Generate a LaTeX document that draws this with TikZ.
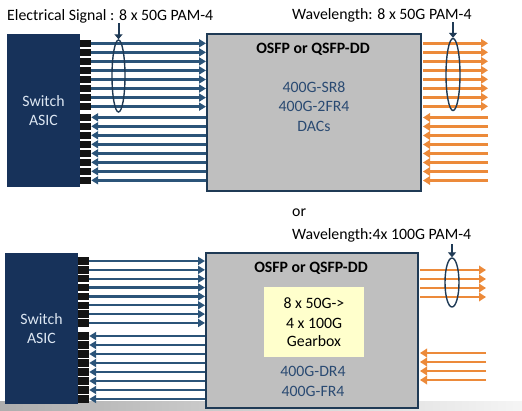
\documentclass[tikz,border=0pt]{standalone}
\usepackage{fontspec}
\setmainfont{Carlito}
\usetikzlibrary{arrows.meta,shapes.geometric}
\definecolor{navy}{HTML}{17325A}
\definecolor{lane}{HTML}{2B5479}
\definecolor{orng}{HTML}{EC8A3A}
\definecolor{modfill}{HTML}{BFBFBF}
\definecolor{modedge}{HTML}{1F3A55}
\definecolor{txtblue}{HTML}{2A4A72}
\definecolor{gbox}{HTML}{FFFFCC}
\definecolor{asictxt}{HTML}{DCE6F2}
\tikzset{
  txt/.style={inner sep=0pt, font=\fontsize{15.8}{19.5}\selectfont},
  asic/.style={fill=navy, draw=none, inner sep=0pt, text=asictxt, align=center,
    font=\fontsize{15.8}{19.3}\selectfont},
  pad/.style={fill=black!92, draw=none, inner sep=0pt, minimum width=11pt, minimum height=7.4pt},
  module/.style={fill=modfill, draw=modedge, line width=2pt, inner sep=0pt},
  gearbox/.style={fill=gbox, draw=none, inner sep=0pt},
  bluearrow/.style={draw=lane, line width=2.4pt, -{Triangle[length=7pt,width=8pt]}},
  orarrow/.style={draw=orng, line width=2.8pt, -{Triangle[length=7pt,width=8.5pt]}},
  bundle/.style={ellipse, draw=modedge, line width=1.4pt, inner sep=0pt},
  downarrow/.style={draw=modedge, line width=2pt, -{Triangle[length=5pt,width=8pt]}},
}
\begin{document}
\begin{tikzpicture}[x=1pt,y=-1pt]
\useasboundingbox (0,0) rectangle (522,410);
\shade[left color=black!32!white, right color=black!4!white] (0,401) rectangle (522,410);

% ---------- top diagram ----------
\node[txt, anchor=base west] (t1) at (7,20) {Electrical Signal : 8 x 50G PAM-4};
\node[txt, anchor=base west] (t2) at (292,19) {Wavelength: 8 x 50G PAM-4};

\node[asic, minimum width=73pt, minimum height=153pt] (asicA) at (43.5,110.5) {Switch\\ASIC};
\node[module, minimum width=214pt, minimum height=157pt] (modA) at (314,112.5) {};
\node[txt, anchor=base, font=\fontsize{15.8}{19.5}\selectfont\bfseries] (hA) at (313,53) {OSFP or QSFP-DD};
\node[txt, anchor=base, text=txtblue] (a1) at (314,92) {400G-SR8};
\node[txt, anchor=base, text=txtblue] (a2) at (314,111.5) {400G-2FR4};
\node[txt, anchor=base, text=txtblue] (a3) at (314,131) {DACs};

\foreach \i in {0,...,7} {
  \node[pad] (pu\i) at (85.5,{43.3+9.05*\i}) {};
  \node[pad] (pd\i) at (85.5,{117.3+9*\i}) {};
  \draw[bluearrow] (pu\i.east) -- (modA.west |- pu\i.east);
  \draw[bluearrow] (modA.west |- pd\i.east) -- (pd\i.east);
  \coordinate (ou\i) at (488,{43.3+9*\i});
  \coordinate (od\i) at (488,{117.5+9*\i});
  \draw[orarrow] ([xshift=1pt]modA.east |- ou\i) -- (ou\i);
  \draw[orarrow] (od\i) -- ([xshift=1pt]modA.east |- od\i);
}
\node[bundle, minimum width=13pt, minimum height=72pt] (eA1) at (118.5,76) {};
\node[bundle, minimum width=14pt, minimum height=72pt] (eA2) at (453,74.5) {};
\coordinate (dA1) at (118.5,23);
\coordinate (dA2) at (453,22);
\draw[downarrow] (dA1) -- (eA1.north);
\draw[downarrow] (dA2) -- (eA2.north);

% ---------- middle text ----------
\node[txt, anchor=base west] (orw) at (292,216) {or};
\node[txt, anchor=base west] (t3) at (292,239) {Wavelength:4x 100G PAM-4};

% ---------- bottom diagram ----------
\node[asic, minimum width=73pt, minimum height=151pt] (asicB) at (41.5,328.5) {Switch\\ASIC};
\node[module, minimum width=212pt, minimum height=155pt] (modB) at (312,330.5) {};
\node[txt, anchor=base, font=\fontsize{15.8}{19.5}\selectfont\bfseries] (hB) at (311,272.7) {OSFP or QSFP-DD};
\node[gearbox, minimum width=100pt, minimum height=70pt] (gb) at (314,322) {};
\node[txt, anchor=base] (g1) at (314,308.3) {8 x 50G->};
\node[txt, anchor=base] (g2) at (314,328) {4 x 100G};
\node[txt, anchor=base] (g3) at (314,346.7) {Gearbox};
\node[txt, anchor=base, text=txtblue] (b1) at (313,376.7) {400G-DR4};
\node[txt, anchor=base, text=txtblue] (b2) at (313,396) {400G-FR4};

\foreach \i in {0,...,7} {
  \node[pad] (qu\i) at (83.5,{261+8.85*\i}) {};
  \node[pad] (qd\i) at (83.5,{336+9*\i}) {};
  \draw[bluearrow] (qu\i.east) -- (modB.west |- qu\i.east);
  \draw[bluearrow] (modB.west |- qd\i.east) -- (qd\i.east);
}
\foreach \i in {0,...,3} {
  \coordinate (ru\i) at (486,{270+9*\i});
  \coordinate (rd\i) at (486,{353+9*\i});
  \draw[orarrow] ([xshift=1pt]modB.east |- ru\i) -- (ru\i);
  \draw[orarrow] (rd\i) -- ([xshift=1pt]modB.east |- rd\i);
}
\node[bundle, minimum width=14pt, minimum height=49pt] (eB) at (452,282.5) {};
\coordinate (dB) at (452,244);
\draw[downarrow] (dB) -- (eB.north);
\end{tikzpicture}
\end{document}
